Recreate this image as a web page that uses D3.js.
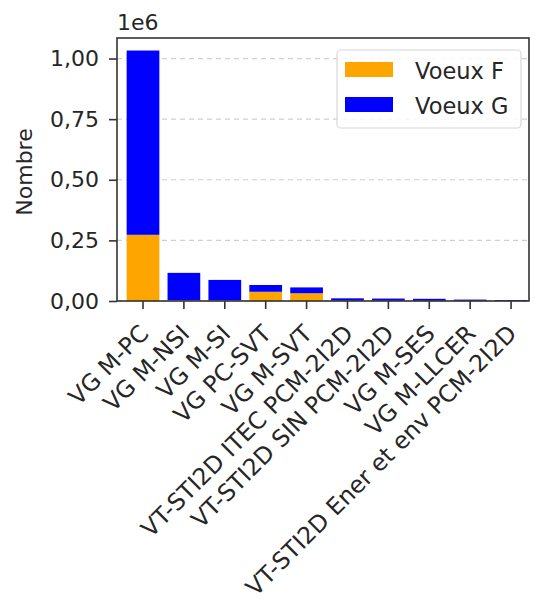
<!DOCTYPE html>
<html><head><meta charset="utf-8">
<script src="https://cdn.jsdelivr.net/npm/d3@7"></script>
<style>body{margin:0;background:#fff}svg{display:block}text{font-family:"DejaVu Sans",sans-serif;fill:#262626}</style>
</head><body>
<svg id="c" width="535" height="602"></svg>
<script>
const categories = ["VG M-PC","VG M-NSI","VG M-SI","VG PC-SVT","VG M-SVT","VT-STI2D ITEC PCM-2I2D","VT-STI2D SIN PCM-2I2D","VG M-SES","VG M-LLCER","VT-STI2D Ener et env PCM-2I2D"];
const voeuxF = [273000, 4000, 3000, 38000, 32000, 1500, 1500, 1000, 800, 600];
const voeuxG = [760000, 112000, 84000, 28000, 24000, 9500, 8500, 8000, 5000, 3500];
const yTicks = [0, 250000, 500000, 750000, 1000000];
const seriesNames = ["Voeux F","Voeux G"];
const colors = ["#FFA500","#0000FF"];

const svg = d3.select("#c");
const L=117, R=529, T=38, B=301;
const totals = categories.map((c,i)=>voeuxF[i]+voeuxG[i]);
const x = d3.scaleBand().domain(categories).range([L,R]).paddingInner(0.2).paddingOuter(0.137).align(0.86);
const y = d3.scaleLinear().domain([0, d3.max(totals)*1.05]).range([B,T]);

// grid
svg.append("g").selectAll("line").data(yTicks).join("line")
  .attr("x1",L).attr("x2",R).attr("y1",d=>y(d)).attr("y2",d=>y(d))
  .attr("stroke","#d0d0d0").attr("stroke-width",1.2).attr("stroke-dasharray","5,4");

// bars
const stackData = categories.map((c,i)=>({c, F:voeuxF[i], G:voeuxG[i]}));
const stack = d3.stack().keys(["F","G"])(stackData);
svg.append("g").selectAll("g").data(stack).join("g").attr("fill",(d,i)=>colors[i])
  .selectAll("rect").data(d=>d).join("rect")
  .attr("x",d=>x(d.data.c)).attr("width",x.bandwidth())
  .attr("y",d=>y(d[1])).attr("height",d=>y(d[0])-y(d[1]));

// spines
svg.append("rect").attr("x",L).attr("y",T).attr("width",R-L).attr("height",B-T)
  .attr("fill","none").attr("stroke","#333").attr("stroke-width",1.6);

// y axis
const fmt = d=>d3.format(".2f")(d/1e6).replace(".",",");
const ya = svg.append("g").attr("transform",`translate(${L},0)`)
  .call(d3.axisLeft(y).tickValues(yTicks).tickFormat(fmt).tickSize(8).tickPadding(10));
ya.select(".domain").remove();
ya.selectAll("line").attr("stroke","#333").attr("stroke-width",1.6);
ya.selectAll("text").attr("font-size",22).attr("font-family","DejaVu Sans").attr("fill","#262626");

// x axis
const xa = svg.append("g").attr("transform",`translate(0,${B})`)
  .call(d3.axisBottom(x).tickSize(8).tickFormat(""));
xa.select(".domain").remove();
xa.selectAll("line").attr("stroke","#333").attr("stroke-width",1.6);
svg.append("g").selectAll("text").data(categories).join("text")
  .attr("text-anchor","end").attr("font-size",23.5)
  .attr("transform",d=>`translate(${x(d)+x.bandwidth()/2+7},${335}) rotate(-45)`)
  .text(d=>d);

// offset text and y label
svg.append("text").attr("x",117).attr("y",30).attr("font-size",22).text("1e6");
svg.append("text").attr("transform","translate(32,172) rotate(-90)").attr("text-anchor","middle")
  .attr("font-size",22).text("Nombre");

// legend
const lg = svg.append("g");
lg.append("rect").attr("x",337).attr("y",50).attr("width",184).attr("height",78).attr("rx",4)
  .attr("fill","#fff").attr("fill-opacity",0.85).attr("stroke","#d8d8d8").attr("stroke-width",1.2);
seriesNames.forEach((n,i)=>{
  lg.append("rect").attr("x",345).attr("y",62+i*35).attr("width",48).attr("height",15).attr("fill",colors[i]);
  lg.append("text").attr("x",415).attr("y",79+i*35).attr("font-size",22.5).text(n);
});
</script>
</body></html>
